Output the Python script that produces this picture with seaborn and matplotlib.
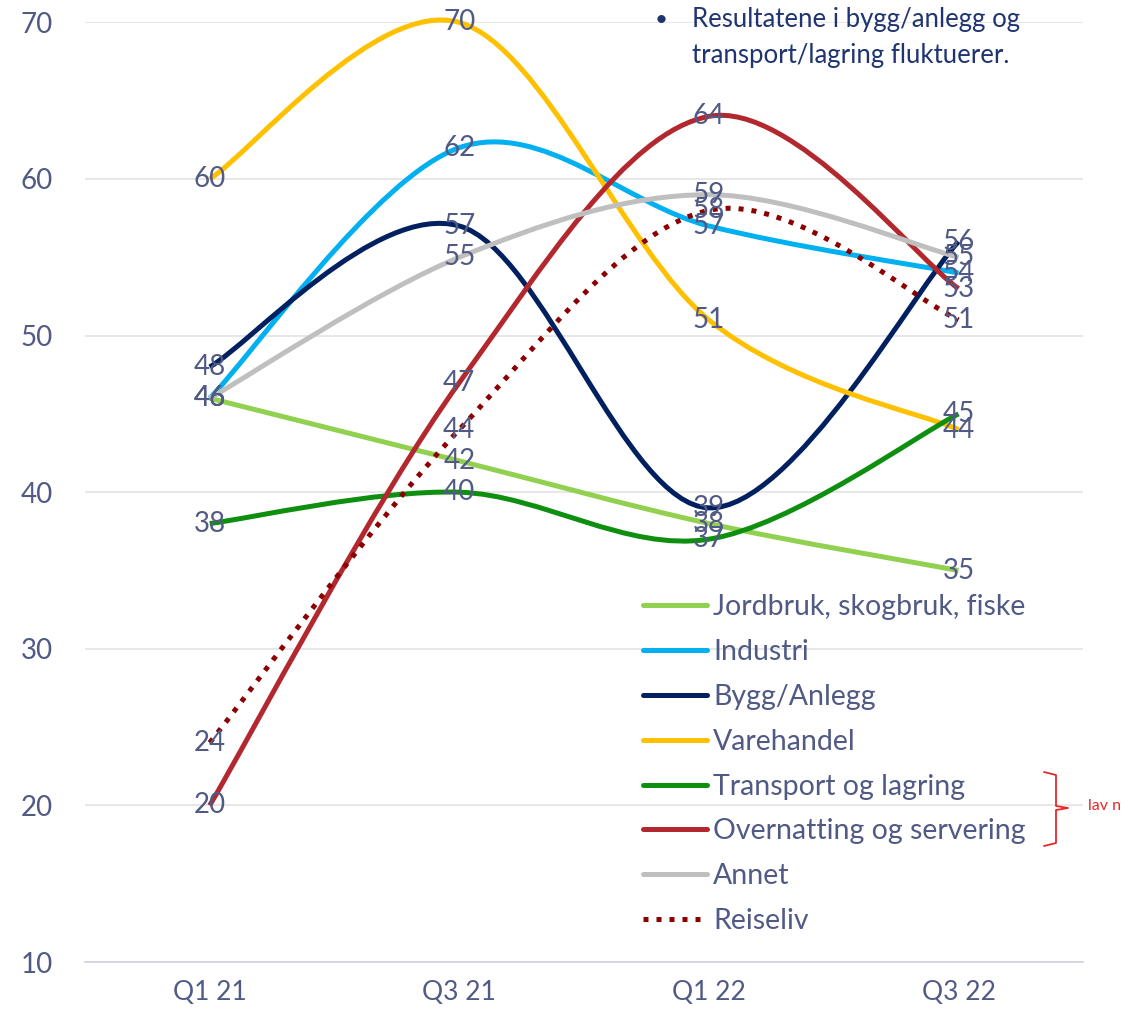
import numpy as np
import pandas as pd
import matplotlib
matplotlib.use("Agg")
import matplotlib.pyplot as plt
import seaborn as sns
from matplotlib.path import Path
from matplotlib.patches import PathPatch
from matplotlib.lines import Line2D

quarters = ["Q1 21", "Q3 21", "Q1 22", "Q3 22"]

jordbruk = [46, 42, 38, 35]
industri = [46, 62, 57, 54]
bygg = [48, 57, 39, 56]
varehandel = [60, 70, 51, 44]
transport = [38, 40, 37, 45]
overnatting = [20, 47, 64, 53]
annet = [46, 55, 59, 55]
reiseliv = [24, 44, 58, 51]

series_names = ["Jordbruk, skogbruk, fiske", "Industri", "Bygg/Anlegg", "Varehandel",
                "Transport og lagring", "Overnatting og servering", "Annet", "Reiseliv"]
series_values = [jordbruk, industri, bygg, varehandel, transport, overnatting, annet, reiseliv]
colors = ["#92d050", "#00b0f0", "#002060", "#ffc000", "#0f8f0f", "#b3282e", "#bfbfbf", "#8b0000"]
styles = ["-", "-", "-", "-", "-", "-", "-", (0, (1, 1.6))]

txt_col = "#515a85"

rows = []
for name, vals in zip(series_names, series_values):
    for i, v in enumerate(vals):
        rows.append({"series": name, "pos": i, "value": v})
df = pd.DataFrame(rows)

sns.set_style("white")
plt.rcParams["font.family"] = ["Lato", "DejaVu Sans"]

fig = plt.figure(figsize=(11.32, 10.18), dpi=100)
ax = fig.add_axes([0.075, 0.055, 0.882, 0.923])

sns.lineplot(data=df, x="pos", y="value", hue="series", palette=colors,
             linewidth=0, legend=False, ax=ax)


def smooth_path(xs, ys):
    # Excel-style smoothed line (cardinal spline as cubic beziers)
    pts = np.column_stack([xs, ys]).astype(float)
    verts = [pts[0]]
    codes = [Path.MOVETO]
    n = len(pts)
    for i in range(n - 1):
        p0 = pts[i - 1] if i > 0 else pts[i]
        p1 = pts[i]
        p2 = pts[i + 1]
        p3 = pts[i + 2] if i + 2 < n else pts[i + 1]
        c1 = p1 + (p2 - p0) / 6.0
        c2 = p2 - (p3 - p1) / 6.0
        verts += [c1, c2, p2]
        codes += [Path.CURVE4] * 3
    return Path(verts, codes)


handles = []
for name, vals, col, ls in zip(series_names, series_values, colors, styles):
    patch = PathPatch(smooth_path(range(len(vals)), vals), facecolor="none",
                      edgecolor=col, linewidth=3.6, linestyle=ls,
                      capstyle="butt", joinstyle="round", zorder=3, clip_on=False)
    ax.add_patch(patch)
    cap = "butt" if ls != "-" else "round"
    handles.append(Line2D([0], [0], color=col, lw=3.6, linestyle=ls,
                          solid_capstyle=cap))

# data labels
for vals in series_values:
    for i, v in enumerate(vals):
        ax.text(i, v, str(v), ha="center", va="center", fontsize=20,
                color=txt_col, zorder=5)

ax.set_xlim(-0.5, 3.5)
ax.set_ylim(10, 70)
ax.set_yticks(range(10, 71, 10))
ax.set_xticks(range(4))
ax.set_xticklabels(quarters)
ax.set_xlabel("")
ax.set_ylabel("")
ax.tick_params(axis="both", length=0, labelcolor=txt_col)
ax.tick_params(axis="y", pad=23, labelsize=20)
ax.tick_params(axis="x", pad=13, labelsize=19)
ax.grid(axis="y", color="#e3e3e3", linewidth=1.2)
ax.set_axisbelow(True)
for s in ["top", "right", "left"]:
    ax.spines[s].set_visible(False)
ax.spines["bottom"].set_color("#d0d0e0")
ax.spines["bottom"].set_linewidth(1.2)

leg = fig.legend(handles, series_names, loc="upper left",
                 bbox_to_anchor=(632 / 1132, 1 - 583 / 1018), frameon=False,
                 fontsize=20.5, handlelength=2.25, handletextpad=0.2,
                 labelspacing=0.66, borderaxespad=0)
for t in leg.get_texts():
    t.set_color(txt_col)

# note at top
fig.text(655 / 1132, 1 - 20 / 1018, "\u2022", fontsize=16, color="#1f3470",
         ha="left", va="center")
fig.text(692 / 1132, 1 - 20 / 1018, "Resultatene i bygg/anlegg og",
         fontsize=18.5, color="#1f3470", ha="left", va="center")
fig.text(692 / 1132, 1 - 56 / 1018, "transport/lagring fluktuerer.",
         fontsize=18.5, color="#1f3470", ha="left", va="center")

# brace for "lav n"
bx = [1044, 1056, 1056, 1068, 1056, 1056, 1044]
by = [772, 775, 806, 808, 810, 843, 846]
fig.add_artist(Line2D([x / 1132 for x in bx], [1 - y / 1018 for y in by],
                      color="#e8262a", lw=1.3, transform=fig.transFigure))
fig.text(1088 / 1132, 1 - 806 / 1018, "lav n", fontsize=11.5, color="#e8262a",
         ha="left", va="center")

fig.savefig("out.png", dpi=100)
